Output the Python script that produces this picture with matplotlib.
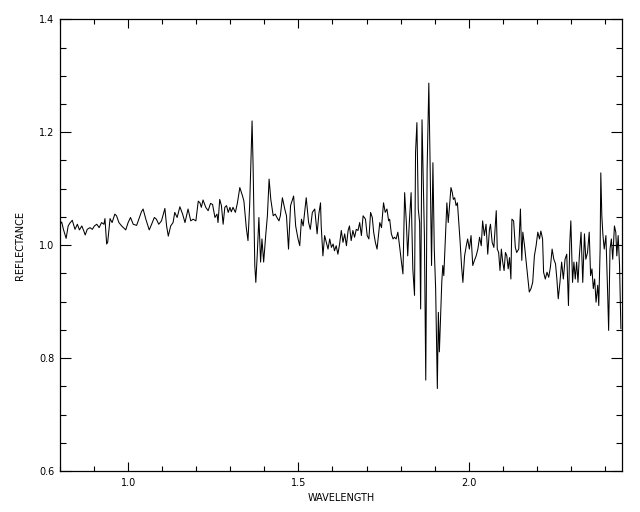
import matplotlib
matplotlib.use("Agg")
import matplotlib.pyplot as plt
from matplotlib.ticker import MultipleLocator

# Spectrum vertices (wavelength, reflectance)
WAVELENGTH = [
    0.800, 0.805, 0.810, 0.818, 0.824, 0.829, 0.836, 0.844, 0.851, 0.857,
    0.864, 0.870, 0.874, 0.880, 0.888, 0.895, 0.901, 0.908, 0.915, 0.922,
    0.929, 0.932, 0.937, 0.940, 0.947, 0.953, 0.961, 0.966, 0.973, 0.981,
    0.993, 1.000, 1.007, 1.015, 1.025, 1.033, 1.039, 1.044, 1.052, 1.062,
    1.069, 1.077, 1.083, 1.090, 1.098, 1.108, 1.113, 1.118, 1.125, 1.132,
    1.137, 1.144, 1.152, 1.160, 1.167, 1.176, 1.184, 1.191, 1.199, 1.206,
    1.211, 1.215, 1.220, 1.228, 1.235, 1.242, 1.248, 1.255, 1.261, 1.264,
    1.269, 1.274, 1.279, 1.284, 1.289, 1.294, 1.299, 1.303, 1.308, 1.315,
    1.321, 1.328, 1.336, 1.340, 1.347, 1.352, 1.357, 1.364, 1.367, 1.372,
    1.375, 1.379, 1.384, 1.389, 1.393, 1.398, 1.404, 1.409, 1.414, 1.419,
    1.426, 1.432, 1.437, 1.443, 1.447, 1.453, 1.460, 1.465, 1.471, 1.477,
    1.486, 1.492, 1.499, 1.504, 1.509, 1.514, 1.523, 1.530, 1.535, 1.541,
    1.548, 1.555, 1.560, 1.565, 1.567, 1.572, 1.577, 1.582, 1.587, 1.592,
    1.597, 1.602, 1.606, 1.611, 1.616, 1.621, 1.626, 1.631, 1.636, 1.641,
    1.646, 1.650, 1.655, 1.660, 1.665, 1.670, 1.675, 1.680, 1.685, 1.690,
    1.697, 1.702, 1.707, 1.712, 1.717, 1.721, 1.726, 1.731, 1.735, 1.739,
    1.744, 1.750, 1.755, 1.760, 1.765, 1.768, 1.773, 1.778, 1.782, 1.787,
    1.792, 1.797, 1.802, 1.807, 1.812, 1.817, 1.821, 1.826, 1.831, 1.836,
    1.841, 1.844, 1.848, 1.852, 1.856, 1.859, 1.863, 1.866, 1.870, 1.874,
    1.878, 1.883, 1.887, 1.891, 1.895, 1.899, 1.903, 1.908, 1.911, 1.914,
    1.917, 1.921, 1.924, 1.927, 1.931, 1.936, 1.940, 1.944, 1.948, 1.952,
    1.955, 1.959, 1.963, 1.967, 1.971, 1.975, 1.979, 1.983, 1.988, 1.993,
    1.997, 2.002, 2.007, 2.012, 2.017, 2.022, 2.027, 2.032, 2.037, 2.041,
    2.046, 2.051, 2.056, 2.061, 2.064, 2.069, 2.074, 2.081, 2.084, 2.088,
    2.092, 2.096, 2.100, 2.104, 2.108, 2.112, 2.116, 2.120, 2.124, 2.127,
    2.132, 2.137, 2.141, 2.147, 2.152, 2.156, 2.159, 2.164, 2.168, 2.173,
    2.178, 2.183, 2.188, 2.193, 2.198, 2.203, 2.208, 2.212, 2.217, 2.220,
    2.225, 2.230, 2.235, 2.240, 2.245, 2.250, 2.255, 2.259, 2.263, 2.268,
    2.273, 2.278, 2.283, 2.288, 2.293, 2.297, 2.300, 2.305, 2.309, 2.313,
    2.317, 2.321, 2.325, 2.330, 2.335, 2.340, 2.344, 2.349, 2.354, 2.358,
    2.362, 2.366, 2.370, 2.374, 2.379, 2.382, 2.386, 2.388, 2.391, 2.394,
    2.398, 2.403, 2.408, 2.411, 2.415, 2.419, 2.423, 2.428, 2.432, 2.435,
    2.439, 2.443, 2.447,
]
REFLECTANCE = [
    1.037, 1.041, 1.028, 1.012, 1.034, 1.039, 1.044, 1.028, 1.037, 1.027,
    1.034, 1.025, 1.018, 1.028, 1.031, 1.028, 1.034, 1.037, 1.031, 1.040,
    1.037, 1.047, 1.002, 1.005, 1.047, 1.040, 1.055, 1.052, 1.040, 1.034,
    1.027, 1.040, 1.049, 1.037, 1.035, 1.049, 1.059, 1.064, 1.046, 1.027,
    1.037, 1.049, 1.046, 1.037, 1.043, 1.065, 1.034, 1.016, 1.034, 1.040,
    1.058, 1.049, 1.068, 1.055, 1.040, 1.064, 1.043, 1.046, 1.043, 1.078,
    1.075, 1.067, 1.080, 1.067, 1.061, 1.074, 1.072, 1.049, 1.055, 1.040,
    1.081, 1.070, 1.037, 1.067, 1.070, 1.058, 1.067, 1.059, 1.067, 1.058,
    1.075, 1.102, 1.087, 1.078, 1.031, 1.008, 1.072, 1.220, 1.140, 0.964,
    0.934, 0.981, 1.049, 0.970, 1.011, 0.970, 1.017, 1.052, 1.117, 1.081,
    1.052, 1.055, 1.049, 1.043, 1.052, 1.084, 1.064, 1.052, 0.993, 1.070,
    1.087, 1.034, 1.011, 0.999, 1.046, 1.034, 1.084, 1.040, 1.028, 1.058,
    1.064, 1.020, 1.055, 1.075, 1.034, 0.981, 1.017, 1.005, 0.993, 1.011,
    0.996, 1.002, 0.990, 0.999, 0.984, 1.002, 1.026, 1.005, 1.020, 0.999,
    1.026, 1.034, 1.008, 1.026, 1.014, 1.028, 1.026, 1.040, 1.017, 1.052,
    1.046, 1.017, 1.011, 1.058, 1.049, 1.023, 1.005, 0.993, 1.017, 1.040,
    1.031, 1.075, 1.058, 1.064, 1.043, 1.046, 1.020, 1.011, 1.014, 1.011,
    1.023, 0.999, 0.973, 0.949, 1.093, 1.040, 0.981, 1.043, 1.093, 0.958,
    0.911, 1.164, 1.217, 1.064, 1.040, 0.887, 1.222, 1.134, 1.017, 0.761,
    1.134, 1.287, 1.134, 0.964, 1.146, 0.993, 0.923, 0.746, 0.881, 0.811,
    0.864, 0.934, 0.964, 0.946, 1.005, 1.075, 1.040, 1.070, 1.102, 1.093,
    1.081, 1.084, 1.070, 1.075, 1.040, 1.005, 0.964, 0.934, 0.981, 0.999,
    1.011, 0.993, 1.017, 0.964, 0.973, 0.981, 0.993, 1.014, 0.999, 1.043,
    1.017, 1.037, 0.984, 1.028, 1.037, 1.005, 0.996, 1.061, 0.993, 0.987,
    0.955, 0.993, 0.970, 0.955, 0.987, 0.981, 0.958, 0.978, 0.940, 1.046,
    1.043, 0.996, 0.987, 0.993, 1.064, 0.973, 1.023, 0.999, 0.975, 0.946,
    0.917, 0.923, 0.934, 0.981, 0.999, 1.023, 1.011, 1.025, 1.011, 0.952,
    0.940, 0.952, 0.943, 0.961, 0.993, 0.975, 0.967, 0.940, 0.905, 0.934,
    0.970, 0.940, 0.975, 0.984, 0.893, 1.005, 1.043, 0.934, 0.970, 0.940,
    0.970, 0.934, 0.981, 1.023, 0.934, 1.020, 0.975, 0.987, 1.023, 0.946,
    0.958, 0.923, 0.940, 0.899, 0.929, 0.893, 0.993, 1.128, 1.052, 1.020,
    0.993, 1.017, 0.917, 0.849, 0.993, 1.011, 0.975, 1.034, 1.023, 0.981,
    1.017, 0.964, 0.852,
]

XLIM = (0.8, 2.45)
YLIM = (0.6, 1.4)
XTICKS = [1.0, 1.5, 2.0]
YTICKS = [0.6, 0.8, 1.0, 1.2, 1.4]

fig = plt.figure(figsize=(6.4, 5.12), dpi=100)
ax = fig.add_axes([0.09375, 0.0801, 0.878, 0.8822])
ax.plot(WAVELENGTH, REFLECTANCE, color="black", linewidth=0.75)

ax.set_xlim(*XLIM)
ax.set_ylim(*YLIM)
ax.set_xticks(XTICKS)
ax.set_xticklabels([f"{v:.1f}" for v in XTICKS])
ax.set_yticks(YTICKS)
ax.set_yticklabels([f"{v:.1f}" for v in YTICKS])
ax.xaxis.set_minor_locator(MultipleLocator(0.1))
ax.yaxis.set_minor_locator(MultipleLocator(0.05))

ax.tick_params(axis="both", which="both", direction="in",
               top=True, right=True, width=0.8, colors="black", labelsize=7)
ax.tick_params(axis="x", which="major", length=6.5, pad=5)
ax.tick_params(axis="x", which="minor", length=3.5)
ax.tick_params(axis="y", which="major", length=8, pad=4)
ax.tick_params(axis="y", which="minor", length=4.5)
for sp in ax.spines.values():
    sp.set_linewidth(0.9)

ax.set_xlabel("WAVELENGTH", fontsize=7, labelpad=4)
ax.set_ylabel("REFLECTANCE", fontsize=7, labelpad=10)

fig.savefig("out.png", dpi=100)
